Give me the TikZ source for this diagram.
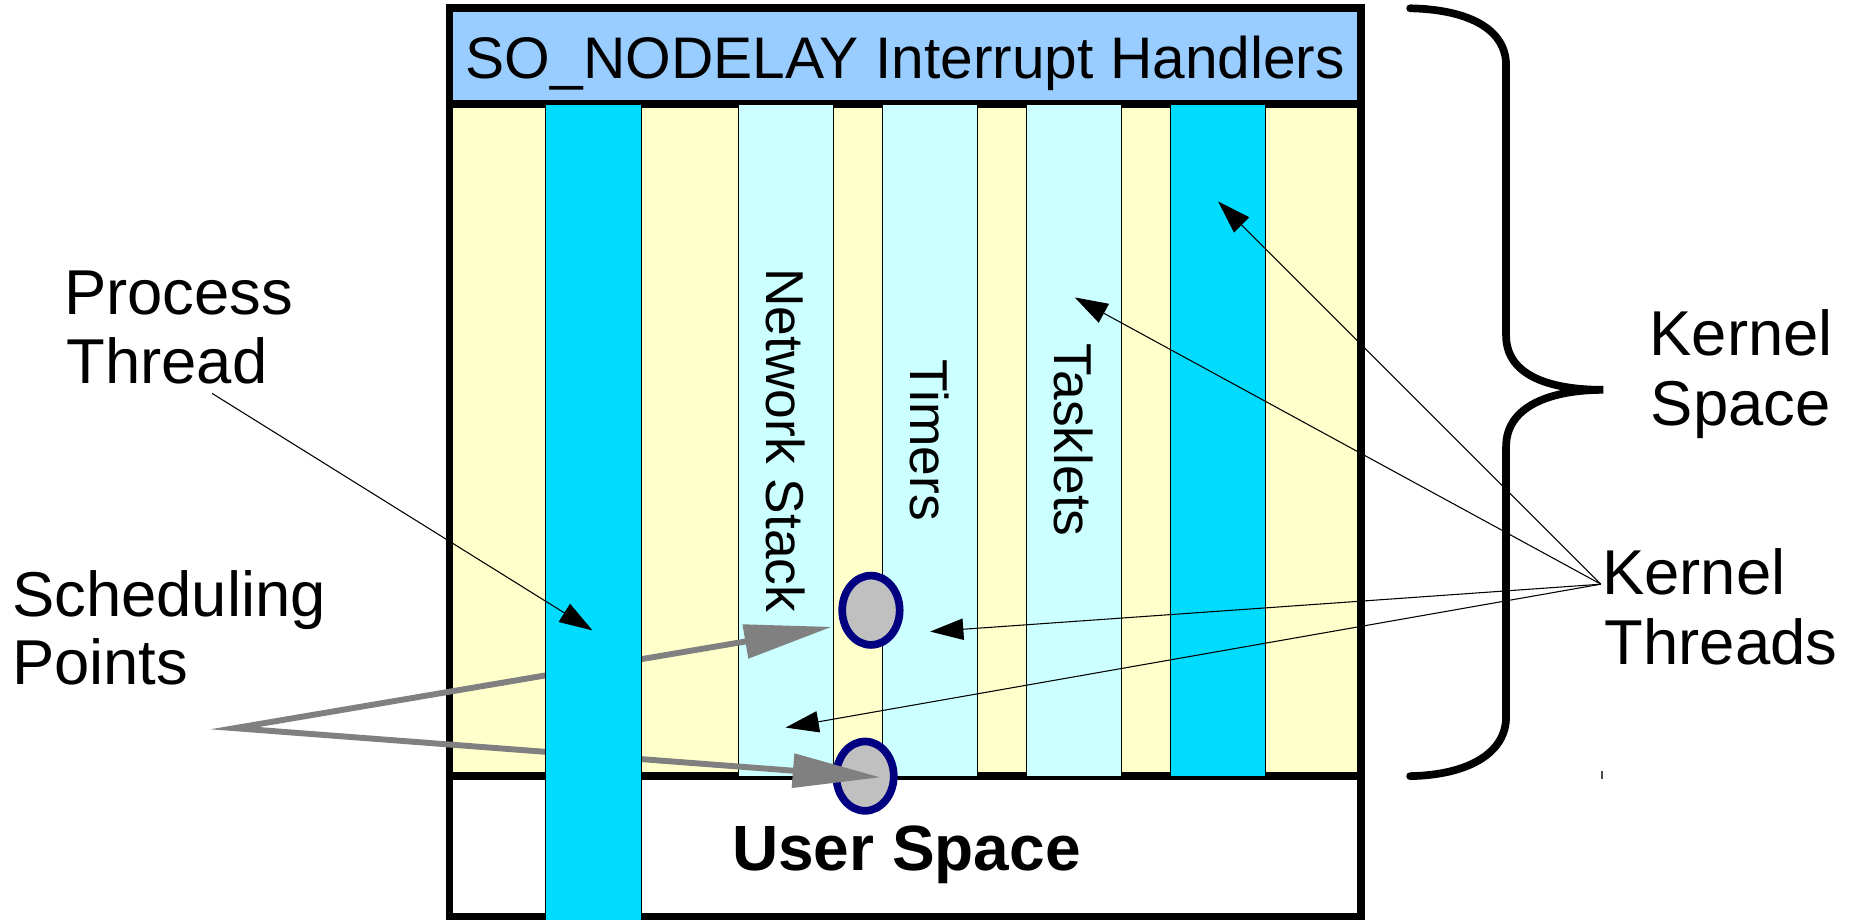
\documentclass[tikz,border=0pt]{standalone}
\usepackage{fontspec}
\setmainfont{Liberation Sans}
\usetikzlibrary{arrows.meta,shapes.geometric}

\definecolor{hdrblue}{HTML}{99CCFF}
\definecolor{kernyellow}{HTML}{FFFFCC}
\definecolor{thrcyan}{HTML}{00DCFF}
\definecolor{softcyan}{HTML}{CCFFFF}
\definecolor{ptgray}{HTML}{C0C0C0}
\definecolor{ptnavy}{HTML}{000080}
\definecolor{arrgray}{HTML}{808080}

\begin{document}
\begin{tikzpicture}[x=1pt,y=-1pt,
  frameline/.style={line width=6.5pt},
  lane/.style={draw=black,line width=0.6pt},
  lanelabel/.style={rotate=-90,font=\fontsize{45}{50}\selectfont,inner sep=0pt},
  sidelabel/.style={font=\fontsize{53.5}{60}\selectfont,inner sep=0pt,anchor=base west},
  schedpoint/.style={ellipse,draw=ptnavy,fill=ptgray,line width=6.5pt,
    minimum width=48.5pt,minimum height=58.5pt,inner sep=0pt},
  pointer/.style={line width=0.9pt,-{Triangle[length=28pt,width=18pt]}},
  schedarrow/.style={draw=arrgray,line width=5pt,line join=miter,
    arrows={Triangle[length=74pt,width=28pt]-Triangle[length=74pt,width=28pt]}},
  bracestroke/.style={line width=6.5pt,line cap=round}
]
\useasboundingbox (0,0) rectangle (1568,776);

% address-space box: header, kernel area, user area
\fill[hdrblue] (379.4,7) rectangle (1148.4,88);
\fill[kernyellow] (379.4,88) rectangle (1148.4,655);
\fill[white] (379.4,655) rectangle (1148.4,774);
\draw[frameline] (379.4,88) -- (1148.4,88);
\draw[frameline] (379.4,655) -- (1148.4,655);
\draw[frameline] (379.4,7) rectangle (1148.4,774);

% kernel lanes
\draw[lane,fill=softcyan] (622.8,88) rectangle (703,655);
\draw[lane,fill=softcyan] (744.3,88) rectangle (824.5,655);
\draw[lane,fill=softcyan] (865.8,88) rectangle (946,655);
\draw[lane,fill=thrcyan] (987.3,88) rectangle (1068,655);

\node[lanelabel] (netstack) at (662.9,371.5) {Network Stack};
\node[lanelabel] (timers) at (784.4,371.5) {Timers};
\node[lanelabel] (tasklets) at (905.9,371.5) {Tasklets};

% header and user-space captions
\node[anchor=base,inner sep=0pt,font=\fontsize{49.5}{60}\selectfont] (hdr) at (764,66)
  {SO\_NODELAY Interrupt Handlers};
\node[anchor=base,inner sep=0pt,font=\bfseries\fontsize{54}{60}\selectfont] (user) at (765,735)
  {User Space};

% scheduling points
\node[schedpoint] (sp1) at (735,515) {};
\node[schedpoint] (sp2) at (730,655) {};

% side labels
\node[sidelabel] (procA) at (54,265) {Process};
\node[sidelabel] (procB) at (56,324) {Thread};
\node[sidelabel] (schedA) at (10,520) {Scheduling};
\node[sidelabel] (schedB) at (10,578) {Points};
\node[sidelabel] (ksA) at (1392,300) {Kernel};
\node[sidelabel] (ksB) at (1393,359) {Space};
\node[sidelabel] (ktA) at (1352,502) {Kernel};
\node[sidelabel] (ktB) at (1354,561) {Threads};

% connector end points
\coordinate (spapex) at (198,614.5);
\coordinate (sptip1) at (702,529);
\coordinate (sptip2) at (743,656);
\coordinate (ptsrc) at (179,332);
\coordinate (pttip) at (500,532);
\coordinate (ktsrc) at (1351,493);
\coordinate (kt1) at (1028,170);
\coordinate (kt2) at (907,251);
\coordinate (kt3) at (785,533);
\coordinate (kt4) at (663,614);

% scheduling-point arrows (pass behind the process thread)
\draw[schedarrow] (sptip1) -- (spapex) -- (sptip2);

% process thread running through kernel and user space
\draw[lane,fill=thrcyan] (459.9,88) rectangle (540.9,778);

% thin pointers
\draw[pointer] (ptsrc) -- (pttip);
\draw[pointer] (ktsrc) -- (kt1);
\draw[pointer] (ktsrc) -- (kt2);
\draw[pointer] (ktsrc) -- (kt3);
\draw[pointer] (ktsrc) -- (kt4);

% kernel-space brace
\draw[bracestroke] (1190,7) .. controls (1240,8) and (1271,25) .. (1271,55)
  -- (1271,283) .. controls (1271,318) and (1310,329) .. (1353,329)
  .. controls (1310,329) and (1271,342) .. (1271,377)
  -- (1271,605) .. controls (1271,635) and (1240,654) .. (1190,655);
\draw[line width=1.2pt,black!70] (1352,651) -- (1352,657);
\end{tikzpicture}
\end{document}
